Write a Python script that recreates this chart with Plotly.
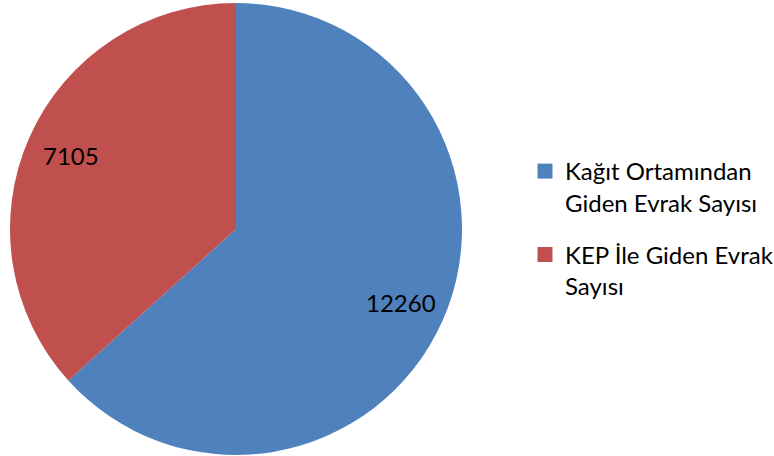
import math
import plotly.graph_objects as go

labels = ["Kağıt Ortamından<br>Giden Evrak Sayısı", "KEP İle Giden Evrak<br>Sayısı"]
values = [12260, 7105]
colors = ["#4F81BD", "#C0504D"]

W, H = 774, 456
CX, CY, R = 236, 229, 226  # pie centre / radius in pixels

fig = go.Figure()
fig.add_trace(go.Pie(
    labels=labels,
    values=values,
    marker=dict(colors=colors, line=dict(width=0)),
    sort=False,
    direction="clockwise",
    rotation=0,
    textinfo="none",
    domain=dict(x=[(CX - R) / W, (CX + R) / W], y=[(H - CY - R) / H, (H - CY + R) / H]),
    hoverinfo="label+value",
    showlegend=False,
))

# legend entries (square markers) in separate groups so that a gap can be set
for i, (lab, col) in enumerate(zip(labels, colors)):
    fig.add_trace(go.Scatter(
        x=[None], y=[None], mode="markers", name=lab,
        marker=dict(symbol="square", size=15, color=col),
        legendgroup=f"g{i}", showlegend=True, hoverinfo="skip",
    ))

# value labels placed along each slice's bisector
total = sum(values)
cum = 0
for v in values:
    theta = 2 * math.pi * (cum + v / 2) / total
    cum += v
    px = CX + 0.8 * R * math.sin(theta)
    py = CY - 0.8 * R * math.cos(theta)
    fig.add_annotation(x=px / W, y=1 - py / H, xref="paper", yref="paper",
                       xanchor="center", yanchor="middle",
                       text=str(v), showarrow=False,
                       font=dict(family="Lato", size=24, color="black"))

fig.update_layout(
    width=W, height=H,
    margin=dict(l=0, r=0, t=0, b=0, autoexpand=False),
    paper_bgcolor="white", plot_bgcolor="white",
    xaxis=dict(visible=False), yaxis=dict(visible=False),
    font=dict(family="Lato", size=24, color="black"),
    legend=dict(x=525 / W, y=1 - 149 / H, xanchor="left", yanchor="top",
                valign="top", font=dict(family="Lato", size=24),
                tracegroupgap=18, bgcolor="rgba(0,0,0,0)"),
    showlegend=True,
)
fig.write_html("out.html", config={"displayModeBar": False},
               post_script="document.body.style.margin='0px';")
